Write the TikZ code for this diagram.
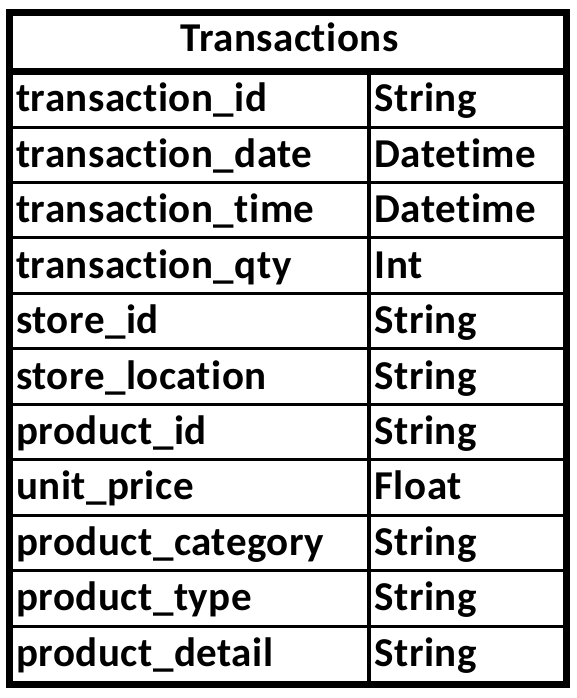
\documentclass[tikz,border=0pt]{standalone}
\usepackage{fontspec}
\setmainfont{Carlito}[Ligatures=NoCommon,RawFeature={-liga;-clig;-dlig},LetterSpace=1.2]
\begin{document}
\begin{tikzpicture}[x=1pt,y=-1pt,
  celltext/.style={anchor=base west, inner sep=0pt, font=\bfseries\fontsize{41}{42}\selectfont},
  headtext/.style={anchor=base, inner sep=0pt, font=\bfseries\fontsize{41}{42}\selectfont},
  outerline/.style={line width=7pt},
  rowline/.style={line width=3pt},
  colline/.style={line width=4pt}]
\useasboundingbox (0,0) rectangle (576,698);
\fill[white] (0,0) rectangle (576,698);
% row separators
\foreach \k in {0,...,9} {
  \draw[rowline] (9.5,{127+55.45*\k}) -- (566,{127+55.45*\k});
}
% column separator
\draw[colline] (368.5,71.5) -- (368.5,684.5);
% header separator
\draw[outerline] (9.5,71.5) -- (566,71.5);
% outer frame
\draw[outerline] (9.5,12.5) rectangle (566,684.5);
% header
\node[headtext] (title) at (289.5,52) {Transactions};
% rows
\foreach \name/\type [count=\k from 0] in {
  transaction\_id/String,
  transaction\_date/Datetime,
  transaction\_time/Datetime,
  transaction\_qty/Int,
  store\_id/String,
  store\_location/String,
  product\_id/String,
  unit\_price/Float,
  product\_category/String,
  product\_type/String,
  product\_detail/String} {
  \node[celltext] (n\k) at (16,{112+55.4*\k}) {\name};
  \node[celltext] (t\k) at (374.5,{112+55.4*\k}) {\type};
}
\end{tikzpicture}
\end{document}
